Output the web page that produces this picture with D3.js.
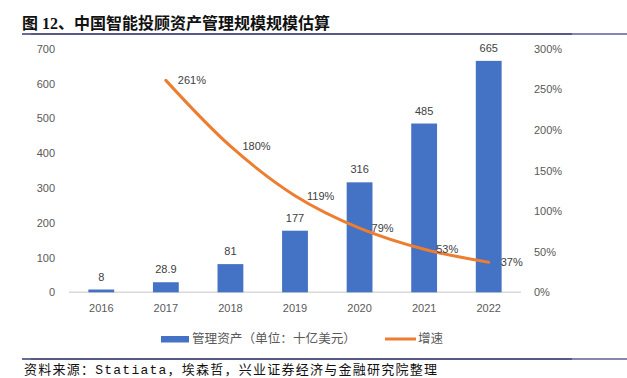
<!DOCTYPE html>
<html>
<head>
<meta charset="utf-8">
<script src="https://cdn.jsdelivr.net/npm/d3@7/dist/d3.min.js"></script>
<style>
  html, body { margin: 0; padding: 0; background: #fff; }
  svg { display: block; }
</style>
</head>
<body>
<svg id="chart" width="627" height="378"></svg>
<script>
// ---- data ----
const years = ["2016", "2017", "2018", "2019", "2020", "2021", "2022"];
const assets = [8, 28.9, 81, 177, 316, 485, 665];
const assetLabels = ["8", "28.9", "81", "177", "316", "485", "665"];
const growthYears = ["2017", "2018", "2019", "2020", "2021", "2022"];
const growth = [2.61, 1.80, 1.19, 0.79, 0.53, 0.37];
const growthLabels = ["261%", "180%", "119%", "79%", "53%", "37%"];
const leftTicks = [0, 100, 200, 300, 400, 500, 600, 700];
const rightTicks = [0, 0.5, 1, 1.5, 2, 2.5, 3];
const titleText = "图 12、中国智能投顾资产管理规模规模估算";
const sourceText = "资料来源：Statiata，埃森哲，兴业证券经济与金融研究院整理";
const legendNames = ["管理资产（单位：十亿美元）", "增速"];

const svg = d3.select("#chart");
const axisFont = "'Liberation Sans', Arial, 'Noto Sans CJK SC', sans-serif";
const cjkFont = "'Noto Sans CJK SC', 'Liberation Sans', sans-serif";

// ---- title & rules ----
svg.append("text")
  .attr("x", 22).attr("y", 29)
  .attr("font-family", "'Liberation Serif', 'Noto Sans CJK SC', serif")
  .attr("font-weight", "bold")
  .attr("font-size", 16)
  .attr("fill", "#111")
  .attr("textLength", 308).attr("lengthAdjust", "spacing")
  .text(titleText);

function rule(y) {
  svg.append("line").attr("x1", 22).attr("x2", 572).attr("y1", y).attr("y2", y)
    .attr("stroke", "#22225e").attr("stroke-width", 1.6);
  svg.append("line").attr("x1", 22).attr("x2", 31).attr("y1", y).attr("y2", y)
    .attr("stroke", "#6f6fa0").attr("stroke-width", 1.6);
  svg.append("line").attr("x1", 572).attr("x2", 627).attr("y1", y).attr("y2", y)
    .attr("stroke", "#5e5e96").attr("stroke-width", 1.6);
}
rule(34);
rule(359);

// ---- scales ----
const x = d3.scaleBand().domain(years).range([69, 521]).paddingInner(0.6).paddingOuter(0.3);
const yL = d3.scaleLinear().domain([0, 700]).range([292.3, 48.7]);
const yR = d3.scaleLinear().domain([0, 3]).range([292.3, 48.7]);

// ---- axes ----
const leftAxis = svg.append("g").attr("transform", "translate(56,0)")
  .call(d3.axisLeft(yL).tickValues(leftTicks).tickSize(0).tickPadding(1).tickFormat(d3.format("d")));
const rightAxis = svg.append("g").attr("transform", "translate(533,0)")
  .call(d3.axisRight(yR).tickValues(rightTicks).tickSize(0).tickPadding(1).tickFormat(d3.format(".0%")));
const bottomAxis = svg.append("g").attr("transform", "translate(0,292.3)")
  .call(d3.axisBottom(x).tickSize(0).tickPadding(12));
[leftAxis, rightAxis, bottomAxis].forEach(g => {
  g.select(".domain").remove();
  g.selectAll("text").attr("font-family", axisFont).attr("font-size", 11).attr("fill", "#595959");
});

// baseline
svg.append("line")
  .attr("x1", 69).attr("x2", 521).attr("y1", yL(0)).attr("y2", yL(0))
  .attr("stroke", "#d9d9d9").attr("stroke-width", 1.5);

// ---- bars ----
svg.append("g").selectAll("rect").data(years).join("rect")
  .attr("x", d => x(d))
  .attr("width", x.bandwidth())
  .attr("y", (d, i) => yL(assets[i]))
  .attr("height", (d, i) => yL(0) - yL(assets[i]))
  .attr("fill", "#4472c4");

svg.append("g").selectAll("text").data(years).join("text")
  .attr("x", d => x(d) + x.bandwidth() / 2)
  .attr("y", (d, i) => yL(assets[i]) - 9)
  .attr("text-anchor", "middle")
  .attr("font-family", axisFont).attr("font-size", 11).attr("fill", "#404040")
  .text((d, i) => assetLabels[i]);

// ---- line ----
const pts = growthYears.map((d, i) => [x(d) + x.bandwidth() / 2, yR(growth[i])]);
svg.append("path")
  .attr("d", d3.line().curve(d3.curveCatmullRom.alpha(0.5))(pts))
  .attr("fill", "none")
  .attr("stroke", "#ed7d31")
  .attr("stroke-width", 3)
  .attr("stroke-linecap", "round")
  .attr("stroke-linejoin", "round");

svg.append("g").selectAll("text").data(growthYears).join("text")
  .attr("x", d => x(d) + x.bandwidth() / 2 + 12)
  .attr("y", (d, i) => yR(growth[i]))
  .attr("dy", "0.35em")
  .attr("font-family", axisFont).attr("font-size", 11).attr("fill", "#404040")
  .text((d, i) => growthLabels[i]);

// ---- legend ----
svg.append("rect").attr("x", 161).attr("y", 336).attr("width", 28).attr("height", 6.5).attr("fill", "#4472c4");
svg.append("text").attr("x", 192).attr("y", 339).attr("dy", "0.35em")
  .attr("font-family", cjkFont).attr("font-size", 12.5).attr("fill", "#595959")
  .attr("textLength", 164).attr("lengthAdjust", "spacingAndGlyphs")
  .text(legendNames[0]);
svg.append("line").attr("x1", 385).attr("x2", 416).attr("y1", 339).attr("y2", 339)
  .attr("stroke", "#ed7d31").attr("stroke-width", 3);
svg.append("text").attr("x", 418).attr("y", 339).attr("dy", "0.35em")
  .attr("font-family", cjkFont).attr("font-size", 12.5).attr("fill", "#595959")
  .text(legendNames[1]);

// ---- source ----
svg.append("text")
  .attr("x", 24).attr("y", 369.5).attr("dy", "0.35em")
  .attr("font-family", "'Liberation Mono', 'Noto Sans CJK SC', monospace")
  .attr("font-size", 13).attr("fill", "#111")
  .attr("textLength", 413).attr("lengthAdjust", "spacing")
  .text(sourceText);
</script>
</body>
</html>
